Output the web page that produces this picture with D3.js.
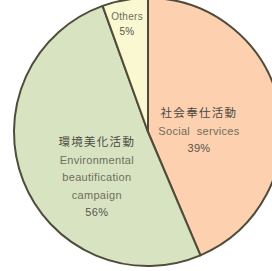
<!DOCTYPE html>
<html>
<head>
<meta charset="utf-8">
<script src="https://cdn.jsdelivr.net/npm/d3@7"></script>
<style>
  html, body { margin: 0; padding: 0; background: #fff; }
  svg { display: block; }
  text { font-family: "Noto Sans CJK JP", "Liberation Sans", sans-serif; }
</style>
</head>
<body>
<div id="chart-pie"></div>
<script>
// slice shares as drawn in the picture (clockwise from 12 o'clock)
var categories = ["社会奉仕活動", "環境美化活動", "Others"];
var englishNames = [["Social  services"], ["Environmental", "beautification", "campaign"], []];
var shares = [43.6, 50.9, 5.5];
var pctLabels = ["39%", "56%", "5%"];
var colors = ["#fdd0af", "#d8e4c1", "#f9f8d0"];

window.onload = function () {
  var width = 272, height = 271;
  var cx = 148, cy = 132, radius = 134;

  var svg = d3.select("#chart-pie").append("svg")
      .attr("width", width)
      .attr("height", height);

  var g = svg.append("g").attr("transform", "translate(" + cx + "," + cy + ")");

  var data = categories.map(function (c, i) {
    return { name: c, en: englishNames[i], value: shares[i], pct: pctLabels[i], color: colors[i] };
  });

  var pie = d3.pie().sort(null).value(function (d) { return d.value; });

  var path = d3.arc().outerRadius(radius).innerRadius(0);

  var arcs = pie(data);

  g.selectAll(".slice")
      .data(arcs)
    .enter().append("path")
      .attr("class", "slice")
      .attr("d", path)
      .attr("fill", function (d) { return d.data.color; })
      .attr("stroke", "#4f4c3c")
      .attr("stroke-width", 2)
      .attr("stroke-linejoin", "round");

  // label placement per slice: radius of the anchor and vertical shift of the block
  var labelLayout = [
    { r: 52, dy: 9 },
    { r: 55, dy: 25 },
    { r: 122, dy: 12 }
  ];
  var lineH = 17.5;

  arcs.forEach(function (d, i) {
    var lay = labelLayout[i];
    var c = d3.arc().innerRadius(lay.r).outerRadius(lay.r).centroid(d);
    var lines = [];
    if (d.data.en.length) lines.push({ t: d.data.name, cls: "zh" });
    d.data.en.forEach(function (e) { lines.push({ t: e, cls: "en" }); });
    if (!d.data.en.length) lines.push({ t: d.data.name, cls: "en" });
    lines.push({ t: d.data.pct, cls: "pct" });

    var lh = i == 2 ? 15 : lineH;
    var top = c[1] + lay.dy - (lines.length - 1) * lh / 2;

    var t = g.append("text")
        .attr("text-anchor", "middle")
        .style("white-space", "pre");

    lines.forEach(function (l, k) {
      t.append("tspan")
        .attr("x", c[0])
        .attr("y", top + k * lh + 4)
        .attr("fill", l.cls == "zh" ? "#4a4a44" : (l.cls == "pct" ? "#55554c" : "#6e6e5c"))
        .style("font-size", l.cls == "zh" ? "11.5px" : (i == 2 ? "10px" : "11px"))
        .style("font-family", l.cls == "zh" ? "'Noto Sans CJK JP', sans-serif" : "'Liberation Sans', Arial, sans-serif")
        .style("letter-spacing", l.cls == "zh" ? "1.3px" : "0.3px")
        .text(l.t);
    });
  });
};
</script>
</body>
</html>
